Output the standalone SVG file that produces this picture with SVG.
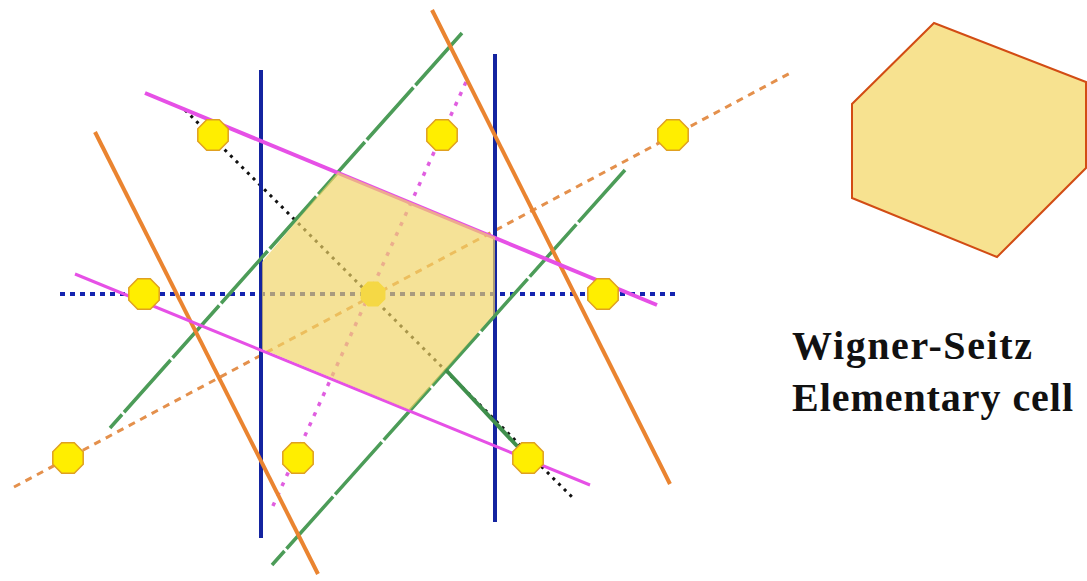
<svg xmlns="http://www.w3.org/2000/svg" width="1087" height="581" viewBox="0 0 1087 581">
<style>
.blue{stroke:#1424a0;stroke-width:4;fill:none}
.bdot{stroke:#1424b0;stroke-width:4;stroke-dasharray:5 5;fill:none}
.mag{stroke:#e650e6;stroke-width:4;fill:none}
.mag2{stroke:#e650e6;stroke-width:3;fill:none}
.magdot{stroke:#e05ee0;stroke-width:3.5;stroke-dasharray:4 7;fill:none}
.grn{stroke:#4c9c58;stroke-width:3.5;stroke-dasharray:70 3;fill:none}
.grn2{stroke:#3f8f4c;stroke-width:4;fill:none}
.org{stroke:#ea8430;stroke-width:4;fill:none}
.odot{stroke:#e4904c;stroke-width:3;stroke-dasharray:7 6;fill:none}
.kdot{stroke:#111;stroke-width:3;stroke-dasharray:3 5;fill:none}
.atom{fill:#ffee00;stroke:#e0a020;stroke-width:1.5}
.lbl{font-family:"Liberation Serif","Times New Roman",serif;font-weight:bold;font-size:40px;fill:#111}
</style>
<defs>
<polygon id="oct" points="15.2,6.3 6.3,15.2 -6.3,15.2 -15.2,6.3 -15.2,-6.3 -6.3,-15.2 6.3,-15.2 15.2,-6.3"/>
</defs>
<rect width="1087" height="581" fill="#fff"/>
<g id="connectors">
<line class="odot" x1="14" y1="487" x2="794" y2="71"/>
<line class="magdot" x1="466" y1="82" x2="272" y2="508"/>
<line class="kdot" x1="185" y1="110" x2="575" y2="500"/>
<line class="bdot" x1="60" y1="294" x2="675" y2="294"/>
<line class="blue" x1="261" y1="70" x2="261" y2="538"/>
<line class="blue" x1="495" y1="54" x2="495" y2="522"/>
<line class="grn" x1="462" y1="33" x2="110" y2="428"/>
<line class="grn" x1="625" y1="170" x2="272" y2="565"/>
<line class="org" x1="95" y1="132" x2="318" y2="574"/>
<line class="org" x1="432" y1="10" x2="670" y2="484"/>
<line class="mag" x1="145" y1="93" x2="657" y2="305"/>
<line class="mag2" x1="75" y1="274" x2="590" y2="485"/>
<line class="grn2" x1="445" y1="369" x2="518" y2="447"/>
</g>
<g id="center-atom"><use href="#oct" transform="translate(373,294) scale(0.82)" fill="#ffe000"/></g>
<g id="ws-cell"><polygon points="262,262 338,172 495,237 495,313 410,410 262,349" fill="#f0d466" fill-opacity="0.68"/></g>
<g id="atoms">
<g id="a1"><use href="#oct" class="atom" x="213" y="135"/></g>
<g id="a2"><use href="#oct" class="atom" x="442" y="135"/></g>
<g id="a3"><use href="#oct" class="atom" x="673" y="135"/></g>
<g id="a4"><use href="#oct" class="atom" x="144" y="294"/></g>
<g id="a5"><use href="#oct" class="atom" x="603" y="294"/></g>
<g id="a6"><use href="#oct" class="atom" x="68" y="458"/></g>
<g id="a7"><use href="#oct" class="atom" x="298" y="458"/></g>
<g id="a8"><use href="#oct" class="atom" x="528" y="458"/></g>
</g>
<g id="ws-cell-separate"><polygon points="934,23 1086,82 1086,168 997,257 852,198 852,104" fill="#f7e290" stroke="#d24c14" stroke-width="2"/></g>
<g id="label">
<text class="lbl" x="792" y="359" textLength="240" lengthAdjust="spacing">Wigner-Seitz</text>
<text class="lbl" x="792" y="411" textLength="281" lengthAdjust="spacing">Elementary cell</text>
</g>
</svg>
